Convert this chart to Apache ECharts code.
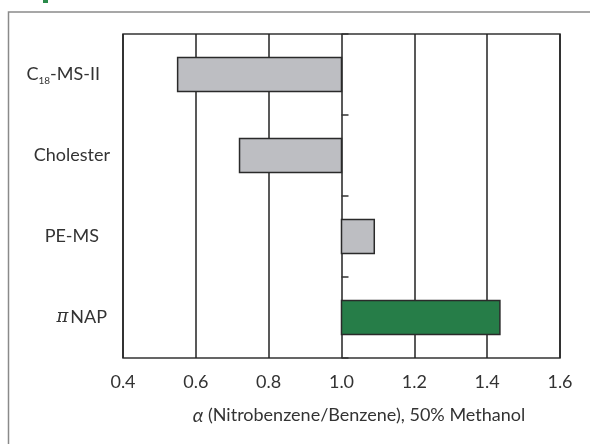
<!DOCTYPE html>
<html>
<head>
<meta charset="utf-8">
<script src="https://cdn.jsdelivr.net/npm/echarts@6/dist/echarts.min.js"></script>
<style>html,body{margin:0;padding:0;background:#fff;}#chart{width:590px;height:444px;}</style>
</head>
<body>
<div id="chart"></div>
<script>
// Data
const categories = ['C18-MS-II', 'Cholester', 'PE-MS', 'πNAP'];
const alphaValues = [0.55, 0.72, 1.09, 1.435];
const baseValue = 1.0;
const xTicks = [0.4, 0.6, 0.8, 1.0, 1.2, 1.4, 1.6];

const barColors = ['#bdbec2', '#bdbec2', '#bdbec2', '#267d48'];
const FONT = 'Lato';

const chart = echarts.init(document.getElementById('chart'));

const labelFmt = function (v) {
  if (v === 'C18-MS-II') return '{t|C}{s|18}{r10|-MS-II}';
  if (v === 'πNAP') return '{p|π}{r3|NAP}';
  if (v === 'PE-MS') return '{r11|PE-MS}';
  return '{t|' + v + '}';
};

const gridLeft = 123, gridRight = 30;
const plotW = 590 - gridLeft - gridRight;
const xMin = xTicks[0], xMax = xTicks[xTicks.length - 1];
const baseOffset = (baseValue - xMin) / (xMax - xMin) * plotW;
const txt = { fontFamily: FONT, fontSize: 18, color: '#333' };

const option = {
  animation: false,
  backgroundColor: '#fff',
  graphic: [
    { type: 'polyline', shape: { points: [[8.5, 444], [8.5, 12], [590, 12]] },
      style: { stroke: '#8a8a8a', lineWidth: 1.5, fill: null }, silent: true },
    { type: 'rect', shape: { x: 43, y: 0, width: 5, height: 3 },
      style: { fill: '#2a8a4a' }, silent: true }
  ],
  grid: {
    left: gridLeft, right: gridRight, top: 34, bottom: 86,
    show: true, borderColor: '#333', borderWidth: 1.5, backgroundColor: 'transparent'
  },
  xAxis: {
    type: 'value', min: xMin, max: xMax, interval: 0.2,
    axisLine: { show: false }, axisTick: { show: false },
    splitLine: { show: true, lineStyle: { color: '#222', width: 1.5 } },
    axisLabel: {
      margin: 15, color: '#333', fontFamily: FONT, fontSize: 18,
      formatter: function (v) { return v.toFixed(1); }
    },
    name: '{a|α}{n| (Nitrobenzene/Benzene), 50% Methanol}',
    nameLocation: 'middle', nameGap: 48,
    nameTextStyle: {
      padding: [0, 0, 0, 35],
      rich: {
        a: { fontFamily: FONT, fontSize: 19, fontStyle: 'italic', color: '#333' },
        n: { fontFamily: FONT, fontSize: 18, color: '#333' }
      }
    }
  },
  yAxis: [
    {
      type: 'category', data: categories, inverse: true,
      axisLine: { show: false }, axisTick: { show: false },
      axisLabel: {
        margin: 13, formatter: labelFmt,
        rich: {
          t: txt,
          r10: Object.assign({}, txt, { padding: [0, 10, 0, 0] }),
          r11: Object.assign({}, txt, { padding: [0, 11, 0, 0] }),
          r3: Object.assign({}, txt, { padding: [0, 3, 0, 0] }),
          s: { fontFamily: FONT, fontSize: 10, color: '#333', padding: [12, 0, 0, 0] },
          p: { fontFamily: 'DejaVu Serif', fontSize: 18, fontStyle: 'italic', color: '#333', padding: [0, 2, 0, 0] }
        }
      }
    },
    {
      type: 'category', data: categories, inverse: true, position: 'left',
      offset: -baseOffset,
      axisLine: { show: false },
      axisTick: { show: true, inside: true, length: 7, lineStyle: { color: '#333', width: 1.5 } },
      axisLabel: { show: false }
    }
  ],
  series: [{
    type: 'custom',
    yAxisIndex: 0,
    encode: { x: 1, y: 0 },
    data: alphaValues.map(function (v, i) { return [i, v]; }),
    renderItem: function (params, api) {
      const idx = api.value(0);
      const val = api.value(1);
      const p0 = api.coord([baseValue, idx]);
      const p1 = api.coord([val, idx]);
      const band = api.size([0, 1])[1];
      const h = band * 0.42;
      const x = Math.min(p0[0], p1[0]);
      const w = Math.abs(p1[0] - p0[0]);
      return {
        type: 'rect',
        shape: { x: x, y: p0[1] - h / 2, width: w, height: h },
        style: { fill: barColors[idx], stroke: '#2a2a2a', lineWidth: 1.5 }
      };
    },
    z: 3
  }]
};
chart.setOption(option);
</script>
</body>
</html>
